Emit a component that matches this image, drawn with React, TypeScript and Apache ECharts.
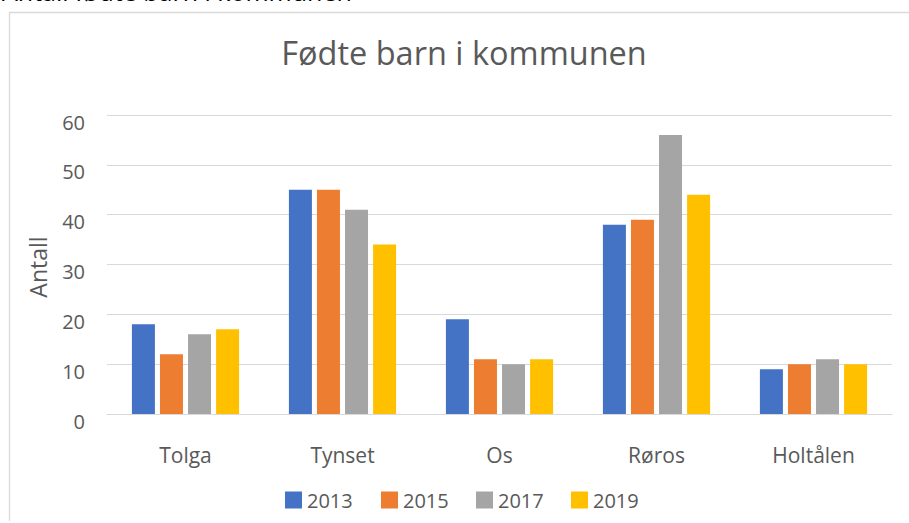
import React, { useEffect, useRef } from "react";
import * as echarts from "echarts";

const categories = ["Tolga", "Tynset", "Os", "Røros", "Holtålen"];
const seriesNames = ["2013", "2015", "2017", "2019"];
const values2013 = [18, 45, 19, 38, 9];
const values2015 = [12, 45, 11, 39, 10];
const values2017 = [16, 41, 10, 56, 11];
const values2019 = [17, 34, 11, 44, 10];
const colors = ["#4472C4", "#ED7D31", "#A5A5A5", "#FFC000"];
const titleText = "Fødte barn i kommunen";
const captionText = "Antall fødte barn i kommunen";
const yAxisName = "Antall";

const FONT = "'Open Sans', 'Noto Sans', sans-serif";
const GREY = "#595959";

export default function App() {
  const ref = useRef<HTMLDivElement>(null);

  useEffect(() => {
    if (!ref.current) return;
    const chart = echarts.init(ref.current, undefined, { renderer: "svg" });
    const allValues = [values2013, values2015, values2017, values2019];
    const legendLefts = [285, 381, 476, 571];

    chart.setOption({
      animation: false,
      backgroundColor: "#ffffff",
      textStyle: { fontFamily: FONT },
      grid: { left: 107, right: 17, top: 115, bottom: 109, containLabel: false },
      legend: seriesNames.map((name, i) => ({
        data: [name],
        left: legendLefts[i],
        top: 490,
        padding: 0,
        itemWidth: 17,
        itemHeight: 17,
        icon: "rect",
        selectedMode: false,
        textStyle: { fontSize: 20, color: GREY, fontFamily: FONT },
      })),
      xAxis: {
        type: "category",
        data: categories,
        axisLine: { show: true, lineStyle: { color: "#d9d9d9", width: 1 } },
        axisTick: { show: false },
        axisLabel: { fontSize: 21, color: GREY, margin: 30, fontFamily: FONT },
      },
      yAxis: {
        type: "value",
        min: 0,
        max: 60,
        interval: 10,
        axisLine: { show: false },
        axisTick: { show: false },
        splitLine: { lineStyle: { color: "#d9d9d9", width: 1 } },
        axisLabel: {
          fontSize: 20,
          color: GREY,
          margin: 22,
          verticalAlign: "top",
          lineHeight: 14,
          fontFamily: FONT,
        },
      },
      series: seriesNames.map((name, i) => ({
        name,
        type: "bar",
        data: allValues[i],
        barWidth: 23,
        barGap: "22%",
        itemStyle: { color: colors[i] },
      })),
      graphic: [
        {
          type: "polyline",
          shape: { points: [[9.5, 521], [9.5, 12.5], [930, 12.5]] },
          style: { stroke: "#d9d9d9", lineWidth: 1.3, fill: "none" },
          silent: true,
        },
        {
          type: "text",
          x: 2,
          y: -9.5,
          silent: true,
          style: {
            text: captionText,
            fontSize: 25,
            fontFamily: FONT,
            fill: "#000000",
            align: "left",
            verticalAlign: "middle",
          },
        },
        {
          type: "text",
          x: 464,
          y: 52,
          silent: true,
          style: {
            text: titleText,
            fontSize: 32.5,
            fontFamily: FONT,
            fill: GREY,
            align: "center",
            verticalAlign: "middle",
          },
        },
        {
          type: "text",
          x: 38,
          y: 267,
          rotation: Math.PI / 2,
          silent: true,
          style: {
            text: yAxisName,
            fontSize: 23,
            fontFamily: FONT,
            fill: GREY,
            align: "center",
            verticalAlign: "middle",
          },
        },
      ],
    });

    return () => chart.dispose();
  }, []);

  return (
    <div
      ref={ref}
      style={{ position: "absolute", left: 0, top: 0, width: 909, height: 523 }}
    />
  );
}
